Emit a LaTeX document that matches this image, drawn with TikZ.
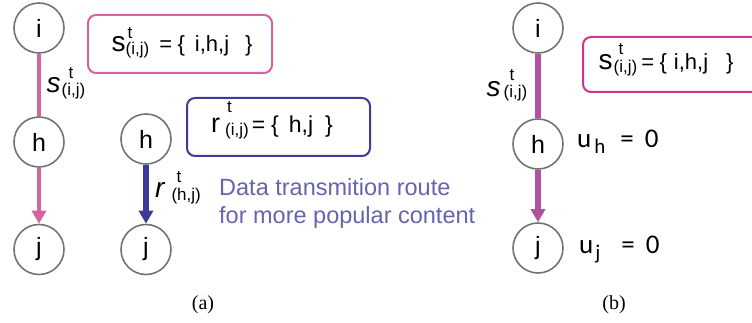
\documentclass[tikz,border=0pt]{standalone}
\usepackage{fontspec}
\setmainfont{Liberation Sans}
\newfontfamily\serifA{Liberation Serif}
\newfontfamily\carl{Carlito}
\usetikzlibrary{arrows.meta}
\definecolor{circgray}{HTML}{737373}
\definecolor{pinkA}{HTML}{D5639E}
\definecolor{pinkB}{HTML}{D2368A}
\definecolor{purpB}{HTML}{B0529F}
\definecolor{blueBox}{HTML}{3E3C96}
\definecolor{blueLine}{HTML}{3A3A99}
\definecolor{noteBlue}{HTML}{6564AE}
% \SSt{t offset}{subscript}{baseline separation}{lowering}
\newcommand\SSt[4]{\raisebox{-#4}{\fontsize{17}{17}\selectfont\rlap{\hspace*{#1}\raisebox{#3}{t}}#2}}
\tikzset{
  vtx/.style={circle,draw=circgray,line width=1.6pt,minimum size=50pt,inner sep=0pt,font=\fontsize{25}{25}\selectfont},
  txt/.style={inner sep=0pt,anchor=base west},
  setbox/.style={rounded corners=8pt,line width=2pt},
  tipA/.style={-{Triangle[width=14pt,length=13pt]}},
}
\begin{document}
\begin{tikzpicture}[x=1pt,y=-1pt]
\useasboundingbox (0,0) rectangle (752,323);
\clip (0,0) rectangle (752,323);
% (a) left path
\node[vtx] (ai) at (39,28) {i};
\node[vtx] (ah) at (39,142) {h};
\node[vtx] (aj) at (39,249.5) {j};
\draw[pinkA,line width=4.5pt] (ai) -- (ah);
\draw[pinkA,line width=4.5pt,tipA] (ah) -- (aj);
\node[txt] (lsa) at (46.5,93) {\fontsize{28}{28}\selectfont\itshape s\upshape\hspace{1pt}\SSt{7pt}{(i,j)}{17pt}{3pt}};
% (a) pink box
\draw[pinkA,setbox] (88,15) rectangle (272,73);
\node[txt] (sa) at (111.5,52) {\fontsize{22}{26}\selectfont{\fontsize{28}{28}\selectfont s}\SSt{2pt}{(i,j)}{16pt}{2.5pt}\hspace{10pt}=\hspace{5.5pt}\{\hspace{10pt}i,h,j\hspace{16pt}\}};
% (a) middle path
\node[vtx] (bh) at (146,139) {h};
\node[vtx] (bj) at (146,249.5) {j};
\draw[blueLine,line width=5.5pt,tipA] (bh) -- (bj);
\node[txt] (lr) at (155,198) {\fontsize{28}{28}\selectfont\itshape r\upshape\hspace{7pt}\SSt{5pt}{(h,j)}{18pt}{2.5pt}};
% (a) blue box
\draw[blueBox,setbox] (187,98) rectangle (370,156);
\node[txt] (ra) at (211,133) {\fontsize{23}{26}\selectfont{\fontsize{27}{27}\selectfont r}\hspace{5pt}\SSt{2pt}{(i,j)}{23pt}{3pt}\hspace{3pt}=\hspace{6pt}\{\hspace{10pt}h,j\hspace{12pt}\}};
\node[txt,anchor=north west,align=left,text=noteBlue,font=\fontsize{23.5}{28}\selectfont] (note) at (219,178) {Data transmition route\\for more popular content};
\node[anchor=base,inner sep=0pt,font=\serifA\fontsize{20}{20}\selectfont] (capa) at (203,309) {(a)};
% (b)
\node[vtx] (ci) at (538,28) {i};
\node[vtx] (ch) at (538,144) {h};
\node[vtx] (cj) at (538,248) {j};
\draw[purpB,line width=5.5pt] (ci) -- (ch);
\draw[purpB,line width=5.5pt,tipA] (ch) -- (cj);
\node[txt] (lsb) at (486.5,97) {\fontsize{28}{28}\selectfont\itshape s\upshape\hspace{3pt}\SSt{6pt}{(i,j)}{17pt}{1pt}};
\draw[pinkB,setbox] (583,37) rectangle (790,92);
\node[txt] (sb) at (598.5,70) {\fontsize{22}{26}\selectfont{\fontsize{28}{28}\selectfont s}\hspace{1pt}\SSt{5pt}{(i,j)}{18pt}{3pt}\hspace{4pt}=\hspace{5.5pt}\{\hspace{7pt}i,h,j\hspace{18pt}\}};
\node[txt] (uh) at (577,148) {\carl\fontsize{27}{30}\selectfont u\hspace{3pt}\raisebox{-6pt}{\fontsize{21}{21}\selectfont h}\hspace{15pt}=\hspace{11pt}0};
\node[txt] (uj) at (579,253) {\carl\fontsize{27}{30}\selectfont u\hspace{2pt}\raisebox{-6pt}{\fontsize{21}{21}\selectfont j}\hspace{21pt}=\hspace{11pt}0};
\node[anchor=base,inner sep=0pt,font=\serifA\fontsize{20}{20}\selectfont] (capb) at (614,309) {(b)};
\end{tikzpicture}
\end{document}
